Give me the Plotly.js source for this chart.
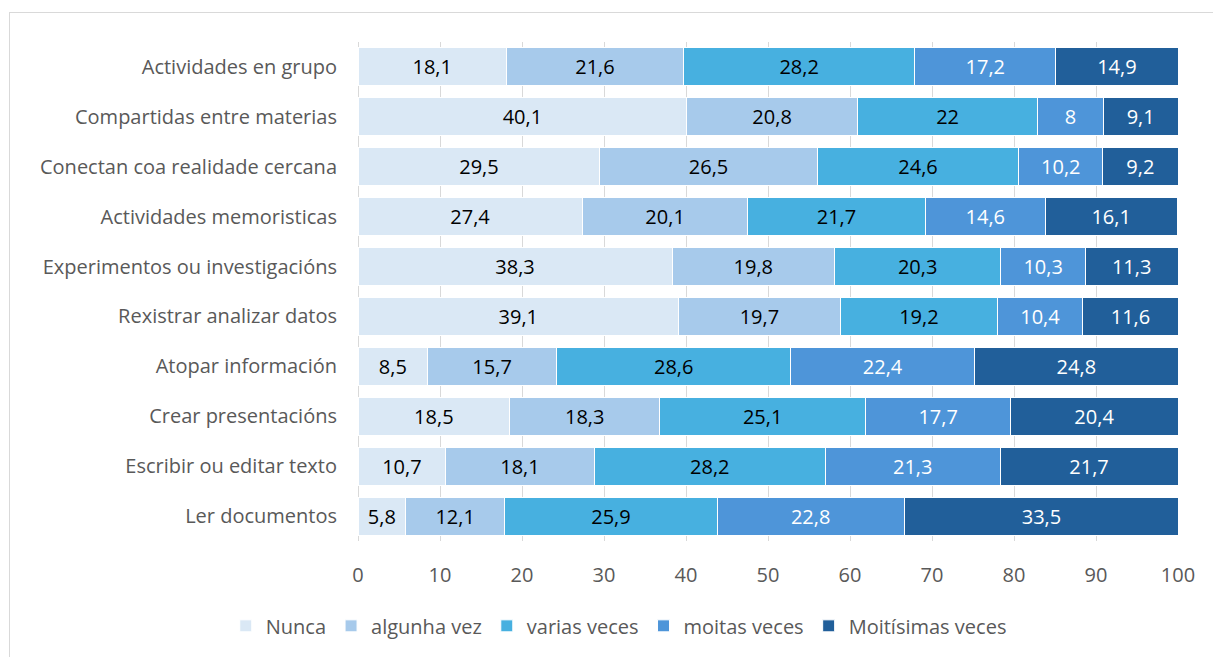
<!DOCTYPE html>
<html>
<head>
<meta charset="utf-8">
<script src="https://cdn.plot.ly/plotly-3.0.1.min.js"></script>
<style>
  html, body { margin: 0; padding: 0; background: #ffffff; }
  #wrap { position: relative; width: 1213px; height: 657px; overflow: hidden; }
  #chart { position: absolute; left: 0; top: 0; width: 1213px; height: 657px; }
  #frame { position: absolute; left: 9px; top: 12px; width: 1220px; height: 660px;
           border-left: 1px solid #d9d9d9; border-top: 1px solid #d9d9d9; pointer-events: none; }
</style>
</head>
<body>
<div id="wrap">
  <div id="chart"></div>
  <div id="frame"></div>
</div>
<script>
const categories = [
  "Actividades en grupo",
  "Compartidas entre materias",
  "Conectan coa realidade cercana",
  "Actividades memoristicas",
  "Experimentos ou investigacións",
  "Rexistrar analizar datos",
  "Atopar información",
  "Crear presentacións",
  "Escribir ou editar texto",
  "Ler documentos"
];
const seriesNames = ["Nunca", "algunha vez", "varias veces", "moitas veces", "Moitísimas veces"];
const nunca        = [18.1, 40.1, 29.5, 27.4, 38.3, 39.1, 8.5, 18.5, 10.7, 5.8];
const algunhaVez   = [21.6, 20.8, 26.5, 20.1, 19.8, 19.7, 15.7, 18.3, 18.1, 12.1];
const variasVeces  = [28.2, 22, 24.6, 21.7, 20.3, 19.2, 28.6, 25.1, 28.2, 25.9];
const moitasVeces  = [17.2, 8, 10.2, 14.6, 10.3, 10.4, 22.4, 17.7, 21.3, 22.8];
const moitisimas   = [14.9, 9.1, 9.2, 16.1, 11.3, 11.6, 24.8, 20.4, 21.7, 33.5];
const xTicks = [0, 10, 20, 30, 40, 50, 60, 70, 80, 90, 100];

const seriesValues = [nunca, algunhaVez, variasVeces, moitasVeces, moitisimas];
const colors = ["#dae8f5", "#a7caeb", "#47b0e0", "#4e95d9", "#215f9a"];
const textColors = ["#000000", "#000000", "#000000", "#ffffff", "#ffffff"];
const FONT = "'Open Sans', 'Noto Sans', sans-serif";
const FS = 20;

const traces = seriesValues.map((vals, i) => ({
  type: "bar",
  orientation: "h",
  name: seriesNames[i],
  x: vals,
  y: categories,
  text: vals.map(v => String(v).replace(".", ",")),
  textposition: "inside",
  insidetextanchor: "middle",
  textangle: 0,
  constraintext: "none",
  textfont: { family: FONT, size: FS, color: textColors[i] },
  insidetextfont: { family: FONT, size: FS, color: textColors[i] },
  marker: { color: colors[i], line: { color: "#ffffff", width: 1 } },
  hoverinfo: "skip"
}));

const layout = {
  barmode: "stack",
  bargap: 0.24,
  width: 1213,
  height: 657,
  margin: { l: 358, r: 35, t: 42, b: 116 },
  paper_bgcolor: "rgba(0,0,0,0)",
  plot_bgcolor: "#ffffff",
  separators: ",.",
  font: { family: FONT, size: FS, color: "#595959" },
  showlegend: true,
  legend: {
    orientation: "h",
    x: 0.318, xanchor: "center",
    y: -0.17, yanchor: "middle",
    font: { family: FONT, size: FS, color: "#595959" },
    traceorder: "normal",
    itemwidth: 30
  },
  xaxis: {
    range: [0, 100],
    tickvals: xTicks,
    ticktext: xTicks.map(String),
    showgrid: true,
    gridcolor: "#d9d9d9",
    gridwidth: 1,
    zeroline: true,
    zerolinecolor: "#d9d9d9",
    zerolinewidth: 1,
    showline: false,
    ticks: "",
    ticklabelstandoff: 20,
    tickfont: { family: FONT, size: FS, color: "#595959" },
    fixedrange: true
  },
  yaxis: {
    type: "category",
    autorange: "reversed",
    showgrid: false,
    zeroline: false,
    showline: false,
    ticks: "",
    ticklabelstandoff: 20,
    tickfont: { family: FONT, size: FS, color: "#595959" },
    fixedrange: true
  }
};

Plotly.newPlot("chart", traces, layout, { staticPlot: true, displayModeBar: false });
</script>
</body>
</html>
